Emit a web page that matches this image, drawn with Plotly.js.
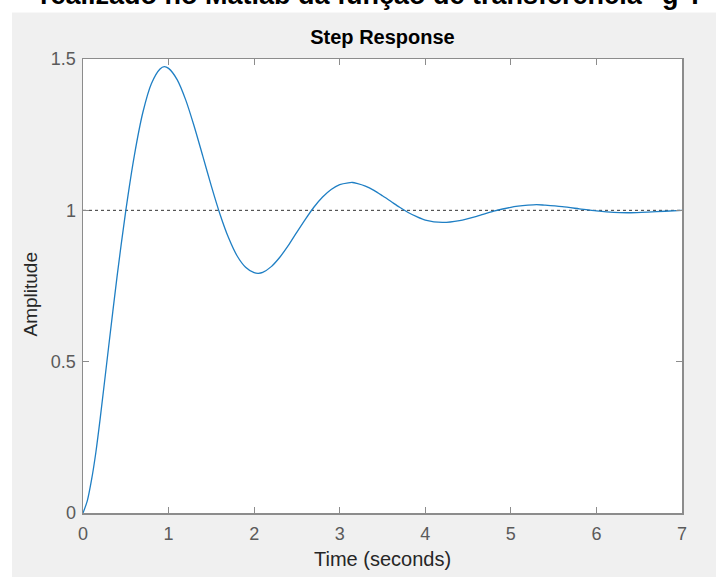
<!DOCTYPE html>
<html>
<head>
<meta charset="utf-8">
<script src="https://cdn.plot.ly/plotly-3.0.1.min.js"></script>
<style>html,body{margin:0;padding:0;background:#fff;}#chart{width:716px;height:577px;}</style>
</head>
<body>
<div id="chart"></div>
<script>
// Step response
const timeSec = [0,0.05,0.1,0.15,0.2,0.3,0.4,0.5,0.6,0.7,0.8,0.9,0.95,1.0,1.1,1.2,1.3,1.4,1.5,1.6,1.7,1.8,1.9,2.0,2.05,2.1,2.2,2.3,2.4,2.5,2.6,2.7,2.8,2.9,3.0,3.1,3.15,3.2,3.3,3.4,3.5,3.6,3.7,3.8,3.9,4.0,4.2,4.4,4.6,4.8,5.0,5.2,5.3,5.4,5.6,5.8,6.0,6.2,6.4,6.6,6.8,7.0];
const amplitude = [0,0.04,0.11,0.20,0.31,0.55,0.786,0.999,1.181,1.324,1.419,1.467,1.475,1.469,1.432,1.365,1.277,1.179,1.080,0.988,0.910,0.850,0.812,0.794,0.792,0.795,0.814,0.845,0.884,0.928,0.971,1.011,1.044,1.069,1.085,1.091,1.092,1.089,1.080,1.066,1.048,1.029,1.010,0.993,0.979,0.968,0.960,0.966,0.980,0.997,1.010,1.017,1.019,1.017,1.012,1.005,0.998,0.993,0.992,0.994,0.997,1.000];
const steadyX = [0, 7];
const steadyY = [1, 1];
const xTicks = [0,1,2,3,4,5,6,7];
const yTicks = [0,0.5,1,1.5];
const yTickText = ['0','0.5','1','1.5'];

const FONT = '"Liberation Sans", Arial, Helvetica, sans-serif';

const traces = [
  {x: steadyX, y: steadyY, mode: 'lines', line: {color: '#333333', width: 1, dash: 'dot'}, hoverinfo: 'skip', showlegend: false},
  {x: timeSec, y: amplitude, mode: 'lines', line: {color: '#1f7fc4', width: 1.3, shape: 'spline', smoothing: 0.8}, showlegend: false}
];

const W = 716, H = 577, L = 83, R = 34, T = 59, B = 64;
const pw = W - L - R, ph = H - T - B;
const px = X => (X - L) / pw;
const py = Y => (H - B - Y) / ph;

const layout = {
  width: W, height: H,
  margin: {l: L, r: R, t: T, b: B, pad: 0},
  paper_bgcolor: '#f0f0f0',
  plot_bgcolor: '#ffffff',
  font: {family: FONT, color: '#4d4d4d', size: 18},
  title: {text: '<b>Step Response</b>', font: {family: FONT, size: 20, color: '#000000'},
          xref: 'paper', x: 0.5, xanchor: 'center', yref: 'container', y: 1 - 37/H, yanchor: 'middle'},
  xaxis: {range: [0, 7], tickvals: xTicks, ticktext: xTicks.map(String), ticks: 'inside', ticklen: 6, tickcolor: '#8c8c8c',
          showline: true, linecolor: '#8c8c8c', linewidth: 1.5, mirror: 'ticks', showgrid: false, zeroline: false,
          ticklabelstandoff: 4,
          tickfont: {family: FONT, size: 18, color: '#5a5a5a'}},
  yaxis: {range: [0, 1.5], tickvals: yTicks, ticktext: yTickText, ticks: 'inside', ticklen: 6, tickcolor: '#8c8c8c',
          showline: true, linecolor: '#8c8c8c', linewidth: 1.5, mirror: 'ticks', showgrid: false, zeroline: false,
          ticklabelstandoff: 2,
          tickfont: {family: FONT, size: 18, color: '#5a5a5a'}},
  shapes: [
    {type: 'rect', xref: 'paper', yref: 'paper', x0: px(-5), x1: px(W + 5), y0: py(12.5), y1: py(-5), fillcolor: '#ffffff', line: {width: 0}, layer: 'below'},
    {type: 'rect', xref: 'paper', yref: 'paper', x0: px(-5), x1: px(12), y0: py(H + 5), y1: py(-5), fillcolor: '#ffffff', line: {width: 0}, layer: 'below'}
  ],
  annotations: [
    {text: '<b>realizado no Matlab da função de transferência "g".</b>', xref: 'paper', yref: 'paper',
     x: px(369), xanchor: 'center', y: py(11), yanchor: 'bottom', showarrow: false, borderpad: 0,
     font: {family: FONT, size: 27, color: '#000000'}},
    {text: 'Time (seconds)', xref: 'paper', yref: 'paper', x: px(382.5), xanchor: 'center', y: py(559), yanchor: 'middle',
     showarrow: false, borderpad: 0, font: {family: FONT, size: 20, color: '#262626'}},
    {text: 'Amplitude', xref: 'paper', yref: 'paper', x: px(29.5), xanchor: 'center', y: py(294), yanchor: 'middle',
     textangle: -90, showarrow: false, borderpad: 0, font: {family: FONT, size: 19, color: '#262626'}}
  ]
};

Plotly.newPlot('chart', traces, layout, {displayModeBar: false, staticPlot: true});
</script>
</body>
</html>
